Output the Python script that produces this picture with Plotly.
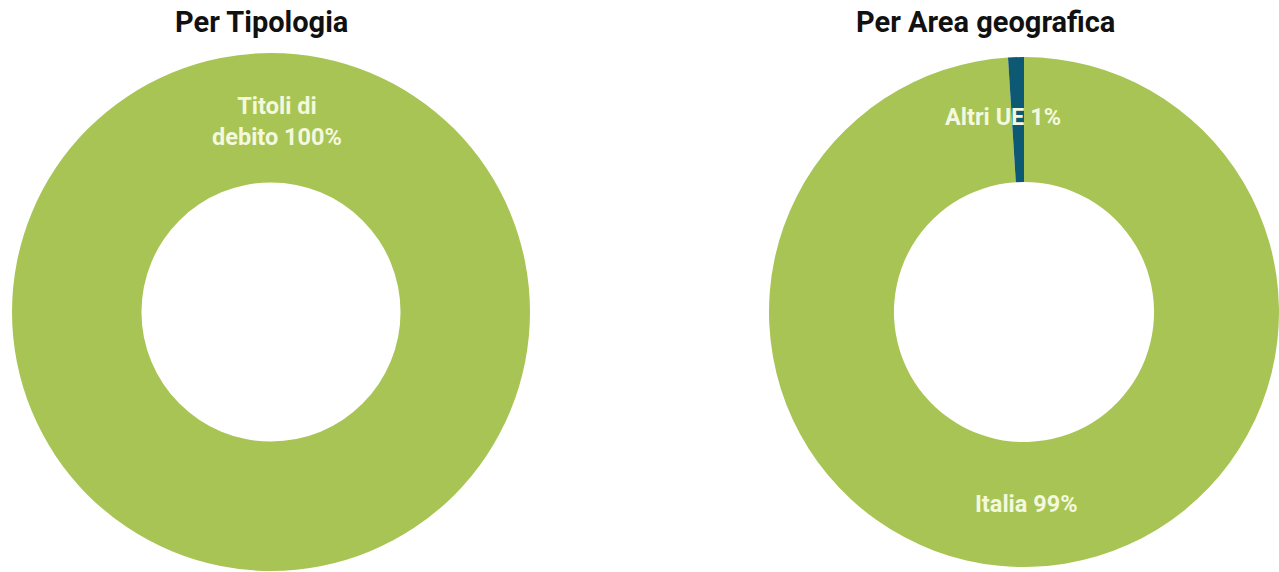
import plotly.graph_objects as go

W, H = 1279, 572

# Composizione per tipologia
tipologia_labels = ["Titoli di debito"]
tipologia_values = [100]

# Composizione per area geografica
area_labels = ["Italia", "Altri UE"]
area_values = [99, 1]

GREEN = "#A8C454"
DARK = "#0D5872"
LABEL_COLOR = "#F3F8DE"
FONT = "Roboto"


def px_x(x):
    return x / W


def px_y(y):
    return 1 - y / H


fig = go.Figure()

fig.add_trace(go.Pie(
    labels=tipologia_labels,
    values=tipologia_values,
    hole=0.5,
    sort=False,
    direction="clockwise",
    rotation=0,
    marker=dict(colors=[GREEN], line=dict(width=0)),
    textinfo="none",
    showlegend=False,
    domain=dict(x=[px_x(12), px_x(530)], y=[px_y(571), px_y(53)]),
))

fig.add_trace(go.Pie(
    labels=area_labels,
    values=area_values,
    hole=0.51,
    sort=False,
    direction="clockwise",
    rotation=0,
    marker=dict(colors=[GREEN, DARK], line=dict(width=0)),
    textinfo="none",
    showlegend=False,
    domain=dict(x=[px_x(769), 1], y=[px_y(567), px_y(57)]),
))

annotations = [
    dict(text="<b>Per Tipologia</b>", x=px_x(261), y=px_y(22),
         font=dict(family=FONT, size=29, color="#111111")),
    dict(text="<b>Per Area geografica</b>", x=px_x(985), y=px_y(22),
         font=dict(family=FONT, size=29, color="#111111")),
    dict(text="<b>Titoli di<br>debito %d%%</b>" % tipologia_values[0],
         x=px_x(277), y=px_y(121),
         font=dict(family=FONT, size=23.5, color=LABEL_COLOR)),
    dict(text="<b>%s %d%%</b>" % (area_labels[1], area_values[1]),
         x=px_x(1003), y=px_y(117),
         font=dict(family=FONT, size=23.5, color=LABEL_COLOR)),
    dict(text="<b>%s %d%%</b>" % (area_labels[0], area_values[0]),
         x=px_x(1026), y=px_y(504),
         font=dict(family=FONT, size=23.5, color=LABEL_COLOR)),
]
for a in annotations:
    a.update(xref="paper", yref="paper", showarrow=False,
             xanchor="center", yanchor="middle")

fig.update_layout(
    width=W, height=H,
    margin=dict(l=0, r=0, t=0, b=0),
    paper_bgcolor="white",
    plot_bgcolor="white",
    annotations=annotations,
)

fig.write_html("out.html")
